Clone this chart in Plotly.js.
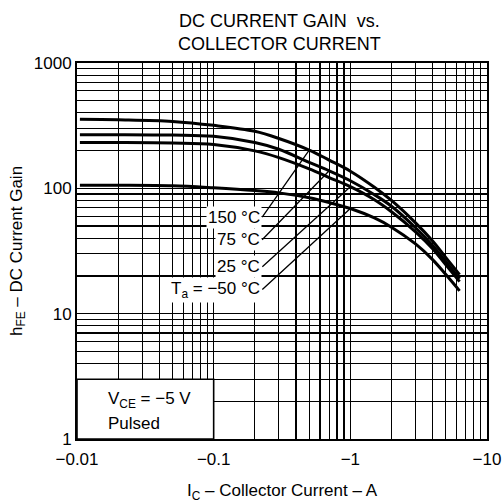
<!DOCTYPE html>
<html>
<head>
<meta charset="utf-8">
<script src="https://cdn.plot.ly/plotly-3.0.1.min.js"></script>
<style>html,body{margin:0;padding:0;background:#fff;}#chart{width:503px;height:503px;}</style>
</head>
<body>
<div id="chart"></div>
<script>
// Collector current magnitude (A)
var icA = [0.0105, 0.02, 0.05, 0.1, 0.2, 0.3, 0.5, 0.7, 1, 1.5, 2, 3, 4, 5, 6.3];
// DC current gain per ambient temperature
var hfe150 = [355, 352, 342, 318, 285, 250, 202, 168, 137, 102, 80, 53, 38, 28, 20.5];
var hfe75  = [268, 268, 266, 260, 232, 205, 161, 138, 115, 89, 72, 48.5, 35, 26, 19];
var hfe25  = [232, 232, 230, 224, 199, 176, 143, 122, 103, 81, 65, 45, 33, 24.5, 18];
var hfeM50 = [106, 106, 105, 101, 96, 92, 84, 77, 69, 58, 49, 36, 27, 20.5, 15.2];
var seriesLabels = ['150 °C', '75 °C', '25 °C', 'T<sub>a</sub> = −50 °C'];
var xTickVals = [0.01, 0.1, 1, 10];
var xTickText = ['−0.01', '−0.1', '−1', '−10'];
var yTickVals = [1, 10, 100, 1000];
var yTickText = ['1', '10', '100', '1000'];
var titleLines = ['DC CURRENT GAIN  vs.', 'COLLECTOR CURRENT'];

var FONT = 'Liberation Sans, Arial, sans-serif';
var series = [hfe150, hfe75, hfe25, hfeM50];
var traces = series.map(function(s, i){
  return {x: icA, y: s, type: 'scatter', mode: 'lines', name: seriesLabels[i],
          line: {color: '#000', width: 3, shape: 'spline', smoothing: 1.0},
          hoverinfo: 'skip', showlegend: false};
});

// label leader points: index into each series
var tipIdx = [6, 7, 8, 8];
var tails = [[-47, 67], [-67, 69], [-88, 80], [-88, 81]];
var annotations = series.map(function(s, i){
  return {x: Math.log10(icA[tipIdx[i]]), y: Math.log10(s[tipIdx[i]]), xref: 'x', yref: 'y',
          text: seriesLabels[i], showarrow: true, arrowhead: 0, arrowwidth: 1.3, arrowcolor: '#000',
          ax: tails[i][0], ay: tails[i][1], xanchor: 'right', yanchor: 'middle',
          bgcolor: '#fff', borderpad: 1,
          font: {family: FONT, size: 17, color: '#000'}};
});
annotations.push({xref: 'x domain', yref: 'y domain', x: 0.07, y: 0.104, xanchor: 'left', yanchor: 'middle',
  text: 'V<sub>CE</sub> = −5 V', showarrow: false, font: {family: FONT, size: 17, color: '#000'}});
annotations.push({xref: 'x domain', yref: 'y domain', x: 0.07, y: 0.042, xanchor: 'left', yanchor: 'middle',
  text: 'Pulsed', showarrow: false, font: {family: FONT, size: 17, color: '#000'}});
annotations.push({xref: 'paper', yref: 'paper', x: 0.495, y: 1.081, xanchor: 'center', yanchor: 'middle',
  text: titleLines.join('<br>'), showarrow: false, font: {family: FONT, size: 18, color: '#000'}});

var layout = {
  width: 503, height: 503,
  margin: {l: 77, r: 16, t: 62.5, b: 64},
  paper_bgcolor: '#fff', plot_bgcolor: '#fff',
  xaxis: {type: 'log', range: [-2, 1], tickvals: xTickVals, ticktext: xTickText, ticks: '',
          showline: true, mirror: true, linecolor: '#000', linewidth: 2,
          showgrid: true, gridcolor: '#000', gridwidth: 1.6, zeroline: false,
          minor: {dtick: 'D1', showgrid: true, gridcolor: '#000', gridwidth: 1.2, ticks: ''},
          ticklabelstandoff: 4,
          tickfont: {family: FONT, size: 17, color: '#000'},
          title: {text: 'I<sub>C</sub> – Collector Current – A', standoff: 18, font: {family: FONT, size: 17, color: '#000'}}},
  yaxis: {type: 'log', range: [0, 3], tickvals: yTickVals, ticktext: yTickText, ticks: '',
          showline: true, mirror: true, linecolor: '#000', linewidth: 2,
          showgrid: true, gridcolor: '#000', gridwidth: 1.6, zeroline: false,
          minor: {dtick: 'D1', showgrid: true, gridcolor: '#000', gridwidth: 1.2, ticks: ''},
          tickfont: {family: FONT, size: 17, color: '#000'},
          title: {text: 'h<sub>FE</sub> – DC Current Gain', standoff: 7, font: {family: FONT, size: 17, color: '#000'}}},
  shapes: [{type: 'rect', xref: 'x domain', yref: 'y domain', x0: 0, x1: 1/3, y0: 0, y1: Math.log10(3)/3,
            fillcolor: '#fff', line: {color: '#000', width: 1.6}, layer: 'above'}],
  annotations: annotations
};
Plotly.newPlot('chart', traces, layout, {displayModeBar: false, staticPlot: true});
</script>
</body>
</html>
